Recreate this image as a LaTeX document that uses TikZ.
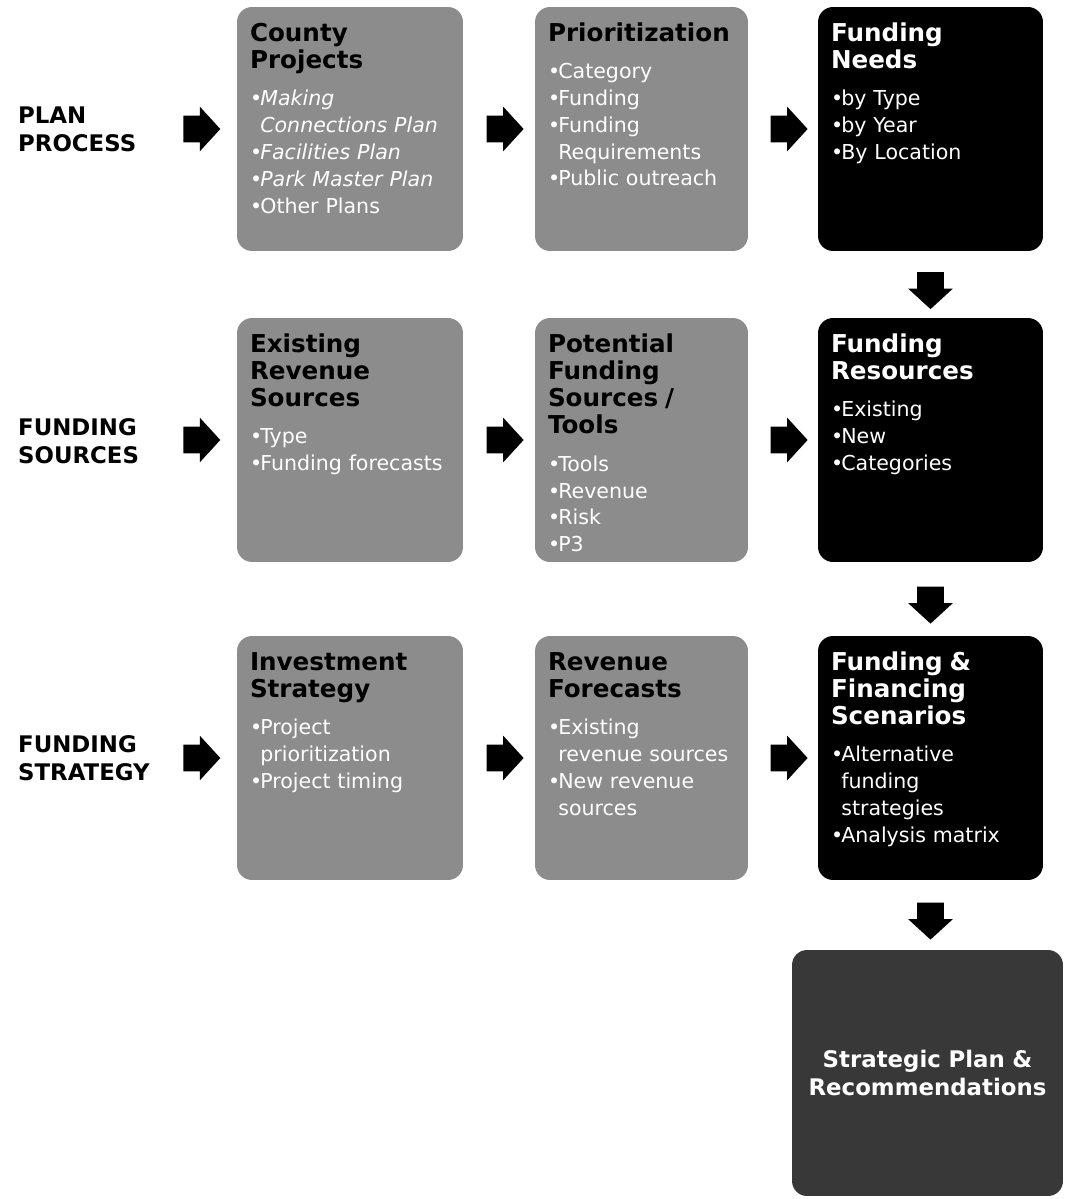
\documentclass[tikz,border=0pt]{standalone}
\usepackage{fontspec}
\setmainfont{DejaVu Sans}
\usetikzlibrary{shapes.arrows,calc}

\definecolor{boxgray}{RGB}{140,140,140}
\definecolor{boxdark}{RGB}{56,56,56}

\newcommand{\hd}[2][black]{\leavevmode{\color{#1}\fontsize{14}{15.5}\selectfont\bfseries #2\par}\vspace{6pt}}
\newcommand{\bl}{\makebox[0.5em][l]{\textbullet}}
\newcommand{\ind}{\hspace*{0.5em}}

\begin{document}
\begin{tikzpicture}[x=0.02cm,y=-0.02cm,
    box/.style={rounded corners=0.3cm, inner xsep=0.26cm, inner ysep=0.32cm,
        align=left, text height=0.36cm, text depth=3.88cm, text=white,
        font=\fontsize{11.7}{15.3}\selectfont},
    gbox/.style={box, fill=boxgray},
    kbox/.style={box, fill=black},
    endbox/.style={rounded corners=0.3cm, fill=boxdark, text=white, align=center,
        text width=5cm, minimum width=5.42cm, minimum height=4.92cm,
        font=\fontsize{13}{15.5}\selectfont\bfseries},
    lbl/.style={anchor=west, align=left, font=\fontsize{13}{15.9}\selectfont\bfseries},
    rarr/.style={single arrow, fill=black, inner sep=0pt, text height=0.26cm, text depth=0.26cm,
        minimum height=0.74cm, single arrow head extend=0.18cm, single arrow tip angle=95},
    darr/.style={rarr, rotate=-90}]

    \useasboundingbox [fill=white] (0,0) rectangle (1065,1199);

    % row labels
    \node [lbl] (pp) at (12,129) {PLAN\\PROCESS};
    \node [lbl] (fsrc) at (12,441) {FUNDING\\SOURCES};
    \node [lbl] (fstr) at (12,758) {FUNDING\\STRATEGY};

    % plan process
    \node [gbox, text width=4cm] (cp) at (350,129) {\hd{County\\Projects}
        \bl\textit{Making}\\\ind\textit{Connections Plan}\\\bl\textit{Facilities Plan}\\
        \bl\textit{Park Master Plan}\\\bl Other Plans};
    \node [gbox, text width=3.74cm] (pr) at (641.5,129) {\hd{Prioritization}
        \bl Category\\\bl Funding\\\bl Funding\\\ind Requirements\\\bl Public outreach};
    \node [kbox, text width=3.98cm] (fn) at (930.5,129) {\hd[white]{Funding\\Needs}
        \bl by Type\\\bl by Year\\\bl By Location};

    % funding sources
    \node [gbox, text width=4cm] (er) at (350,440) {\hd{Existing\\Revenue\\Sources}
        \bl Type\\\bl Funding forecasts};
    \node [gbox, text width=3.74cm] (pf) at (641.5,440) {\hd{Potential\\Funding\\Sources /\\Tools}
        \bl Tools\\\bl Revenue\\\bl Risk\\\bl P3};
    \node [kbox, text width=3.98cm] (fr) at (930.5,440) {\hd[white]{Funding\\Resources}
        \bl Existing\\\bl New\\\bl Categories};

    % funding strategy
    \node [gbox, text width=4cm] (is) at (350,758) {\hd{Investment\\Strategy}
        \bl Project\\\ind prioritization\\\bl Project timing};
    \node [gbox, text width=3.74cm] (rf) at (641.5,758) {\hd{Revenue\\Forecasts}
        \bl Existing\\\ind revenue sources\\\bl New revenue\\\ind sources};
    \node [kbox, text width=3.98cm] (fs) at (930.5,758) {\hd[white]{Funding \&\\Financing\\Scenarios}
        \bl Alternative\\\ind funding\\\ind strategies\\\bl Analysis matrix};

    \node [endbox] (sp) at (927.5,1073) {Strategic Plan \&\\Recommendations};

    % arrows
    \foreach \b in {cp,er,is}
        \node [rarr] (lbl-\b) at ($(\b.west)+(-41,0)$) {};
    \foreach \a/\b in {cp/pr, pr/fn, er/pf, pf/fr, is/rf, rf/fs}
        \node [rarr] (\a-\b) at ($(\a.east)!0.5!(\b.west)$) {};
    \foreach \a/\b in {fn/fr, fr/fs, fs/sp}
        \node [darr] (\a-\b) at ($(\a.south)!0.5!(\a.south|-\b.north)$) {};
\end{tikzpicture}
\end{document}
